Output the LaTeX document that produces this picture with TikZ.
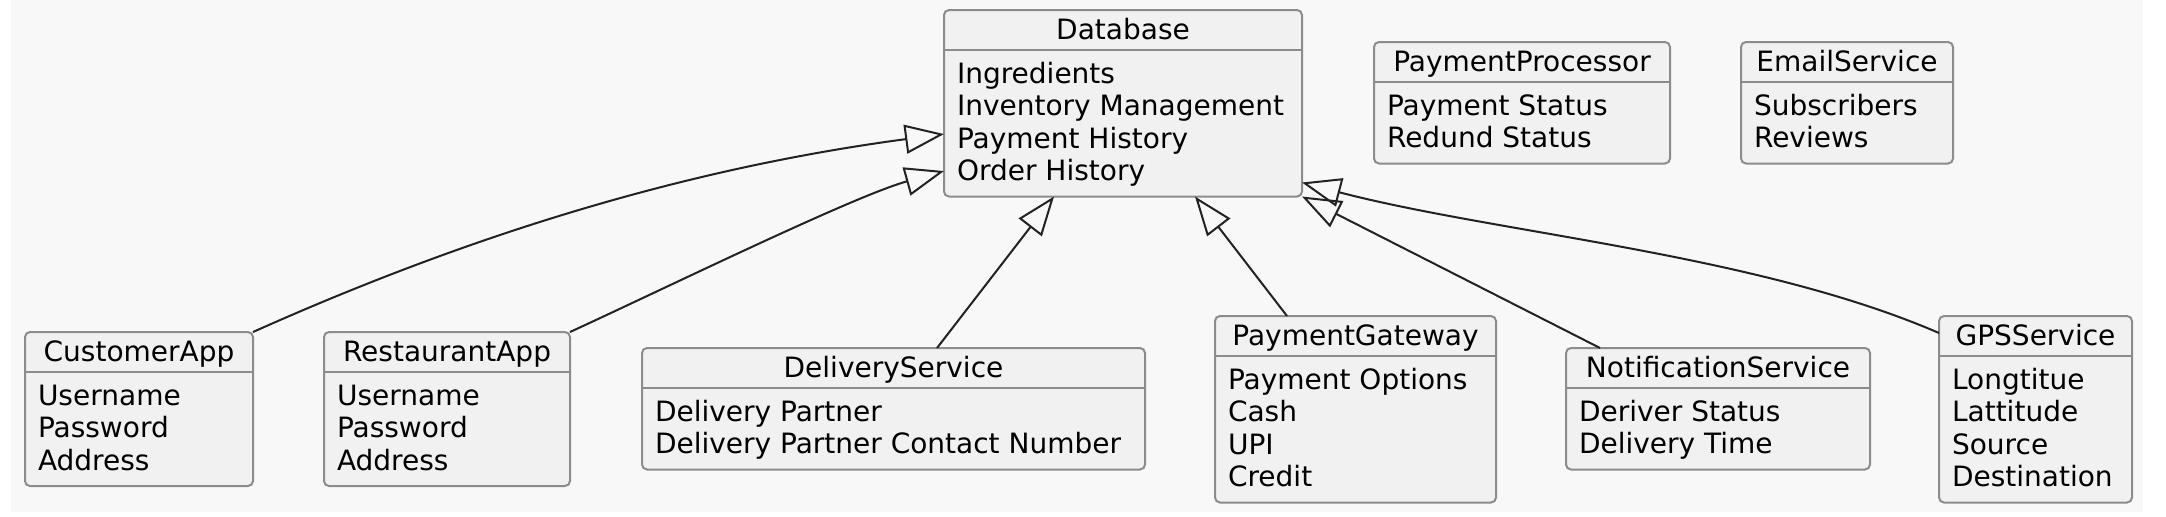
\documentclass[tikz,border=0pt]{standalone}
\usepackage{fontspec}
\setmainfont{DejaVu Sans}
\usetikzlibrary{arrows.meta}
\definecolor{bgc}{HTML}{F8F8F8}
\definecolor{boxc}{HTML}{F1F1F1}
\definecolor{bordc}{HTML}{8C8C8C}
\definecolor{edgec}{HTML}{222222}
\tikzset{
  cbox/.style={draw=bordc, fill=boxc, line width=1pt, rounded corners=2.5pt, inner sep=0pt, outer sep=0pt},
  sepline/.style={draw=bordc, line width=1pt},
  txt/.style={font=\fontsize{14pt}{16pt}\selectfont, inner sep=0pt, outer sep=0pt, text=black},
  gen/.style={draw=edgec, line width=1pt, line join=miter, -{Triangle[open,length=19.5pt,width=14.5pt]}}
}
\newcommand{\classbox}[7]{%
  \node[cbox, anchor=north west, minimum width={(#4-#2)*0.5pt}, minimum height={(89+32.5*(#5-1))*0.5pt}] (#1) at (#2,-#3) {};
  \draw[sepline] ([yshift=-20pt]#1.north west) -- ([yshift=-20pt]#1.north east);
  \node[txt, anchor=base] (#1-title) at ([yshift=-14.5pt]#1.north) {#6};
  \foreach \attr [count=\i from 0] in {#7} {%
    \node[txt, anchor=base west] (#1-a\i) at ([xshift=6.5pt,yshift={-36.5pt-16.25pt*\i}]#1.north west) {\attr};}%
}
\begin{document}
\begin{tikzpicture}[x=0.5pt,y=0.5pt]
\useasboundingbox (0,0) rectangle (2166,-516);
\fill[white] (0,0) rectangle (2166,-516);
\fill[bgc] (11,0) rectangle (2143,-512);

\classbox{db}{944}{10}{1302}{4}{Database}{Ingredients,Inventory Management,Payment History,Order History}
\classbox{pp}{1374}{42}{1670}{2}{PaymentProcessor}{Payment Status,Redund Status}
\classbox{es}{1741}{42}{1953}{2}{EmailService}{Subscribers,Reviews}
\classbox{cust}{25}{332}{253}{3}{CustomerApp}{Username,Password,Address}
\classbox{rest}{324}{332}{570}{3}{RestaurantApp}{Username,Password,Address}
\classbox{del}{642}{348}{1145}{2}{DeliveryService}{Delivery Partner,Delivery Partner Contact Number}
\classbox{pg}{1215}{316}{1496}{4}{PaymentGateway}{Payment Options,Cash,UPI,Credit}
\classbox{ns}{1566}{348}{1870}{2}{NotificationService}{Deriver Status,Delivery Time}
\classbox{gps}{1939}{316}{2132}{4}{GPSService}{Longtitue,Lattitude,Source,Destination}

\draw[gen] (cust.north east) .. controls +(228,102) and +(-248,-33) .. ([yshift=-15.4pt]db.west);
\draw[gen] (rest.north east) .. controls +(100,46) and +(-90,-25) .. ([yshift=-33.9pt]db.west);
\draw[gen] ([xshift=21.75pt]del.north) -- ([xshift=-34.5pt]db.south);
\draw[gen] ([xshift=-34.25pt]pg.north) -- ([xshift=36pt]db.south);
\draw[gen] ([xshift=-59pt]ns.north) -- (db.south east);
\draw[gen] ([yshift=-8.5pt]gps.north west) .. controls +(-183.5,79.5) and +(193.5,-50.7) .. ([yshift=7pt]db.south east);
\end{tikzpicture}
\end{document}
